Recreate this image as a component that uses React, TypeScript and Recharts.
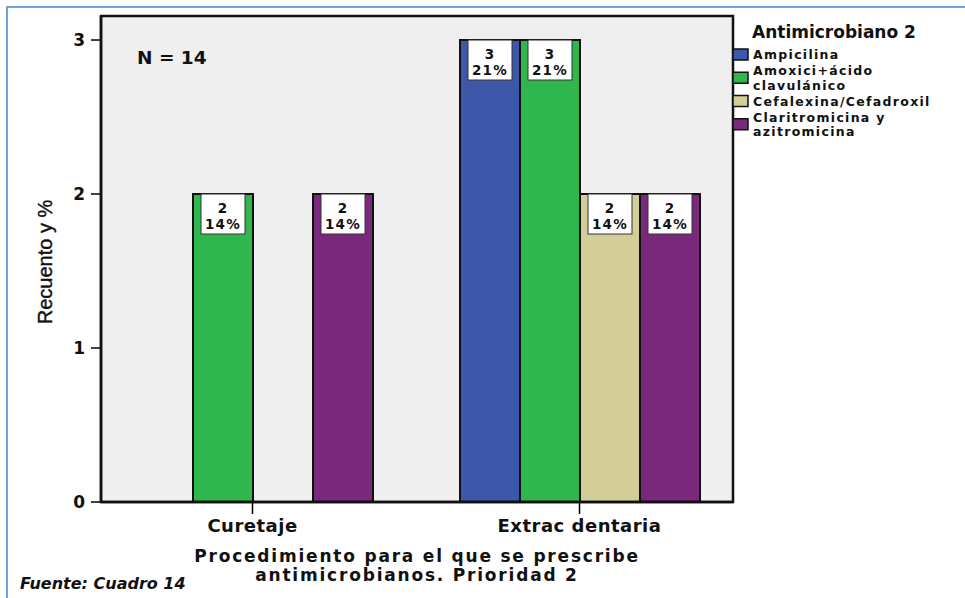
import React from 'react';
import { BarChart, Bar, XAxis, YAxis, CartesianGrid, LabelList } from 'recharts';

const categories = ['Curetaje', 'Extrac dentaria'];
const ampicilina = [null, 3];
const amoxicilina = [2, 3];
const cefalexina = [null, 2];
const claritromicina = [2, 2];
const totalN = 14;
const yTicks = [0, 1, 2, 3];

const series = [
  { key: 'ampicilina', label: ['Ampicilina'], color: '#3d58a8', values: ampicilina },
  { key: 'amoxicilina', label: ['Amoxici+ácido', 'clavulánico'], color: '#2fb64c', values: amoxicilina },
  { key: 'cefalexina', label: ['Cefalexina/Cefadroxil'], color: '#d3cd97', values: cefalexina },
  { key: 'claritromicina', label: ['Claritromicina y', 'azitromicina'], color: '#7a287b', values: claritromicina },
];

const data = categories.map((name, i) => {
  const row: any = { name };
  series.forEach((s) => { row[s.key] = s.values[i]; });
  return row;
});

const bold = '"DejaVu Sans", Verdana, sans-serif';
const plain = '"Liberation Sans", Arial, sans-serif';

const ValueBox = (props: any) => {
  const { x, y, width, value } = props;
  if (value == null) return null;
  const cx = x + width / 2;
  const pct = Math.round((value / totalN) * 100);
  return (
    <g>
      <rect x={cx - 22} y={y} width={44} height={40} fill="#fff" stroke="#333" strokeWidth={1} />
      <text x={cx} y={y + 19} textAnchor="middle" fontSize={13.5} fontWeight="bold" fontFamily={bold} letterSpacing={1.2} fill="#111">{value}</text>
      <text x={cx} y={y + 35} textAnchor="middle" fontSize={13.5} fontWeight="bold" fontFamily={bold} letterSpacing={1.2} fill="#111">{`${pct}%`}</text>
    </g>
  );
};

// legend rows: baseline of first line for each item
const lineStep = 14.5;
let legendY = 59;
const legendRows = series.map((s) => {
  const row = { ...s, base: legendY };
  legendY += (s.label.length - 1) * lineStep + 16;
  return row;
});

export default function App() {
  return (
    <div style={{ position: 'absolute', left: 0, top: 0, width: 965, height: 598, background: '#fff', overflow: 'hidden' }}>
      <div style={{ position: 'absolute', left: 6, top: 6, width: 980, height: 620, borderLeft: '2px solid #6fa4dc', borderTop: '2px solid #6fa4dc' }} />
      <BarChart width={965} height={598} data={data} margin={{ top: 16, right: 232, bottom: 0, left: 0 }} barGap={0} barSize={60}>
        <CartesianGrid horizontal={false} vertical={false} fill="#efefef" />
        <XAxis dataKey="name" height={96} padding={{ left: -12, right: -10 }} tickSize={12} tickMargin={5}
          axisLine={{ stroke: '#000', strokeWidth: 2.5 }} tickLine={{ stroke: '#000', strokeWidth: 1.5 }}
          tick={{ fill: '#111', fontSize: 18, fontWeight: 'bold', fontFamily: bold, letterSpacing: 0.5 }} />
        <YAxis width={101} domain={[0, 3.156]} ticks={yTicks} allowDataOverflow tickSize={10} tickMargin={6}
          axisLine={{ stroke: '#000', strokeWidth: 2.5 }} tickLine={{ stroke: '#000', strokeWidth: 1.5 }}
          tick={{ fill: '#111', fontSize: 17, fontWeight: 'bold', fontFamily: bold }} />
        {series.map((s) => (
          <Bar key={s.key} dataKey={s.key} fill={s.color} stroke="#111" strokeWidth={2} isAnimationActive={false}>
            <LabelList dataKey={s.key} content={<ValueBox />} />
          </Bar>
        ))}
      </BarChart>

      <svg width={965} height={598} style={{ position: 'absolute', left: 0, top: 0, pointerEvents: 'none' }}>
        <rect x={101} y={16} width={632} height={486} fill="none" stroke="#111" strokeWidth={2.5} />
        <text x={137} y={64} fontSize={18.5} fontWeight="bold" fontFamily={bold} fill="#111">N = 14</text>
        <text x={45} y={262} transform="rotate(-90 45 262)" textAnchor="middle" dominantBaseline="central" fontSize={20} fontFamily={plain} stroke="#111" strokeWidth={0.4} fill="#111">Recuento y %</text>
        <text x={417} y={562} textAnchor="middle" fontSize={17} fontWeight="bold" fontFamily={bold} letterSpacing={1.8} fill="#111">Procedimiento para el que se prescribe</text>
        <text x={417} y={581} textAnchor="middle" fontSize={17} fontWeight="bold" fontFamily={bold} letterSpacing={1.8} fill="#111">antimicrobianos. Prioridad 2</text>
        <text x={20} y={589} fontSize={16} fontWeight="bold" fontStyle="italic" fontFamily={bold} fill="#111">Fuente: Cuadro 14</text>

        <text x={752} y={38} fontSize={17} fontWeight="bold" fontFamily={bold} fill="#111">Antimicrobiano 2</text>
        {legendRows.map((r) => {
          const mid = r.base - 4.5 + (r.label.length - 1) * lineStep / 2;
          return (
            <g key={r.key}>
              <rect x={733} y={mid - 5.5} width={15} height={11} fill={r.color} stroke="#111" strokeWidth={1.5} />
              {r.label.map((l, j) => (
                <text key={l} x={753} y={r.base + j * lineStep} fontSize={12.5} fontWeight="bold" fontFamily={bold} letterSpacing={1.3} fill="#111">{l}</text>
              ))}
            </g>
          );
        })}
      </svg>
    </div>
  );
}
